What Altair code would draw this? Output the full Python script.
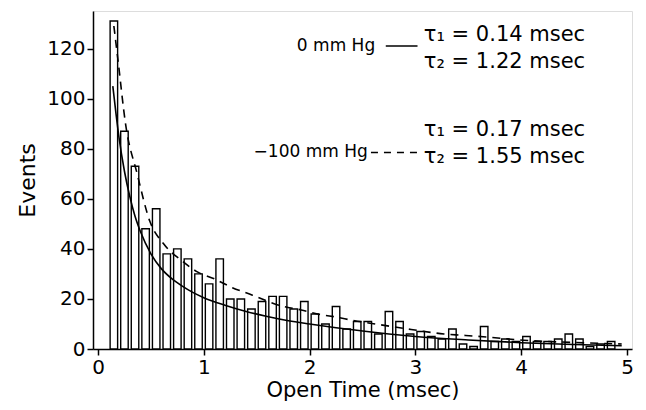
import altair as alt
import pandas as pd

# Histogram bins (bin centres, msec) and event counts
bin_centers = [0.15, 0.25, 0.35, 0.45, 0.55, 0.65, 0.75, 0.85, 0.95, 1.05,
               1.15, 1.25, 1.35, 1.45, 1.55, 1.65, 1.75, 1.85, 1.95, 2.05,
               2.15, 2.25, 2.35, 2.45, 2.55, 2.65, 2.75, 2.85, 2.95, 3.05,
               3.15, 3.25, 3.35, 3.45, 3.55, 3.65, 3.75, 3.85, 3.95, 4.05,
               4.15, 4.25, 4.35, 4.45, 4.55, 4.65, 4.75, 4.85]
events = [131, 87, 73, 48, 56, 38, 40, 36, 30, 26,
          36, 20, 20, 16, 19, 21, 21, 16, 19, 14,
          10, 17, 8, 11, 11, 6, 15, 11, 6, 7,
          5, 4, 8, 2, 1, 9, 3, 4, 3, 5,
          3, 3, 4, 6, 4, 1, 2, 3]

# Fitted curve, 0 mm Hg (solid)
fit0_t = [0.14, 0.17, 0.2, 0.25, 0.3, 0.35, 0.4, 0.5, 0.6, 0.7, 0.8, 0.9, 1.0,
          1.2, 1.4, 1.6, 1.8, 2.0, 2.25, 2.5, 2.75, 3.0, 3.5, 4.0, 4.5, 4.95]
fit0_y = [105, 94, 84, 71, 61, 53, 47, 38, 32, 28, 25, 22.5, 20.5,
          17.5, 15, 13, 11.3, 10, 8.5, 7.2, 6, 5, 3.6, 2.5, 1.8, 1.3]

# Fitted curve, -100 mm Hg (dashed)
fit100_t = [0.15, 0.19, 0.26, 0.37, 0.49, 0.62, 0.8, 0.93, 1.1, 1.27, 1.46, 1.7,
            1.92, 2.1, 2.26, 2.4, 2.62, 2.96, 3.27, 3.44, 3.64, 4.02, 4.5, 4.95]
fit100_y = [129, 115, 90, 70, 51, 42, 35, 31, 28, 24.5, 21.5, 17.6,
            15.6, 13.8, 12.7, 11.5, 10, 7.8, 6, 5.5, 4.9, 3.5, 2.6, 2]

# Annotation texts
cond_labels = ["0 mm Hg", "\u2212100 mm Hg"]
tau_labels = ["\u03c4\u2081 = 0.14 msec", "\u03c4\u2082 = 1.22 msec",
              "\u03c4\u2081 = 0.17 msec", "\u03c4\u2082 = 1.55 msec"]

FONT = "DejaVu Sans"

bars_df = pd.DataFrame({"t": bin_centers, "n": events})
fit0_df = pd.DataFrame({"t": fit0_t, "n": fit0_y})
fit100_df = pd.DataFrame({"t": fit100_t, "n": fit100_y})

xs = alt.Scale(domain=[0, 5], nice=False, zero=False)
ys = alt.Scale(domain=[0, 135], nice=False)

xaxis = alt.Axis(values=[0, 1, 2, 3, 4, 5], format="d", title="Open Time (msec)",
                 grid=False, tickSize=6, labelFontSize=20, titleFontSize=21,
                 labelFont=FONT, titleFont=FONT, labelColor="black",
                 titleColor="black", titleFontWeight="normal", domainColor="black",
                 tickColor="black", domainWidth=1.5, tickWidth=1.5, labelPadding=2,
                 titlePadding=2)
yaxis = alt.Axis(values=[0, 20, 40, 60, 80, 100, 120], title="Events",
                 grid=False, tickSize=6, labelFontSize=20, titleFontSize=22,
                 labelFont=FONT, titleFont=FONT, labelColor="black",
                 titleColor="black", titleFontWeight="normal", domainColor="black",
                 tickColor="black", domainWidth=1.5, tickWidth=1.5, labelPadding=2,
                 titlePadding=7)

bars = alt.Chart(bars_df).mark_bar(size=7.5, fill="white", stroke="black",
                                   strokeWidth=1.4).encode(
    x=alt.X("t:Q", scale=xs, axis=xaxis),
    y=alt.Y("n:Q", scale=ys, axis=yaxis),
)

line0 = alt.Chart(fit0_df).mark_line(color="black", strokeWidth=1.6,
                                     interpolate="monotone").encode(
    x=alt.X("t:Q", scale=xs), y=alt.Y("n:Q", scale=ys))
line100 = alt.Chart(fit100_df).mark_line(color="black", strokeWidth=1.6,
                                         strokeDash=[8, 6],
                                         interpolate="monotone").encode(
    x=alt.X("t:Q", scale=xs), y=alt.Y("n:Q", scale=ys))

cond_df = pd.DataFrame({"label": cond_labels, "x": [2.62, 2.55], "y": [121, 78.5]})
cond_text = alt.Chart(cond_df).mark_text(align="right", baseline="middle",
                                         font=FONT, fontSize=17, color="black").encode(
    x=alt.X("x:Q", scale=xs), y=alt.Y("y:Q", scale=ys), text="label:N")

tau_df = pd.DataFrame({"label": tau_labels, "x": [3.08, 3.08, 3.08, 3.08],
                       "y": [125.5, 114.5, 87.5, 76.5]})
tau_text = alt.Chart(tau_df).mark_text(align="left", baseline="middle",
                                       font=FONT, fontSize=21, color="black").encode(
    x=alt.X("x:Q", scale=xs), y=alt.Y("y:Q", scale=ys), text="label:N")

sample0_df = pd.DataFrame({"x": [2.72], "x2": [3.02], "y": [121]})
sample0 = alt.Chart(sample0_df).mark_rule(color="black", strokeWidth=1.5).encode(
    x=alt.X("x:Q", scale=xs), x2="x2:Q", y=alt.Y("y:Q", scale=ys))
sample100_df = pd.DataFrame({"x": [2.58], "x2": [3.02], "y": [78.5]})
sample100 = alt.Chart(sample100_df).mark_rule(color="black", strokeWidth=1.5,
                                              strokeDash=[7, 6]).encode(
    x=alt.X("x:Q", scale=xs), x2="x2:Q", y=alt.Y("y:Q", scale=ys))

chart = alt.layer(bars, line0, line100, sample0, sample100, cond_text, tau_text).properties(
    width=539, height=338,
    autosize=alt.AutoSizeParams(type="none"),
    padding={"left": 85, "top": 3, "right": 6, "bottom": 53},
).configure_view(stroke="black", strokeWidth=2).configure(background="white")

chart.save("out.html", embed_options={"renderer": "svg", "actions": False})
